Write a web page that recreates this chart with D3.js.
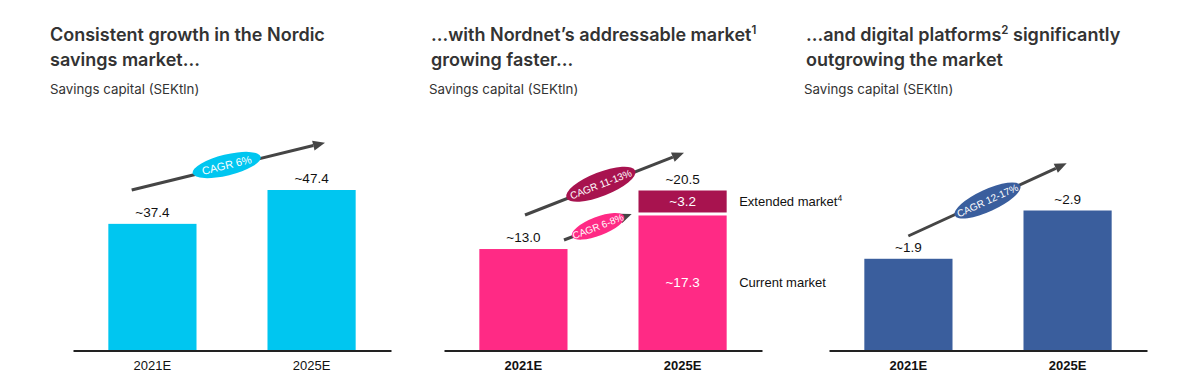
<!DOCTYPE html>
<html><head><meta charset="utf-8">
<script src="https://cdn.jsdelivr.net/npm/d3@7/dist/d3.min.js"></script>
<style>
html,body{margin:0;padding:0;background:#fff;}
svg{display:block;}
</style></head>
<body>
<svg id="chart" width="1178" height="381"></svg>
<script>
// ---- data ----
const categories = ["2021E", "2025E"];
const nordicValues = [37.4, 47.4];
const nordicLabels = ["~37.4", "~47.4"];
const currentMarket = [13.0, 17.3];
const extendedMarket = [0, 3.2];
const addressableLabels = ["~13.0", "~20.5"];
const segmentLabels = ["~17.3", "~3.2"];
const digitalValues = [1.9, 2.9];
const digitalLabels = ["~1.9", "~2.9"];
const cagrLabels = ["CAGR 6%", "CAGR 11-13%", "CAGR 6-8%", "CAGR 12-17%"];
const titles = [
  ["Consistent growth in the Nordic", "savings market..."],
  ["...with Nordnet\u2019s addressable market|1", "growing faster..."],
  ["...and digital platforms|2 significantly", "outgrowing the market"]
];
const subtitle = "Savings capital (SEKtln)";
const legendLabels = ["Extended market", "Current market"];

// ---- style ----
const C = {cyan:"#00c6f0", pink:"#ff2a85", plum:"#a8134f", blue:"#3a5e9d", text:"#333", arrow:"#454545"};
const svg = d3.select("#chart");
const baseY = 350.5;
const panelW = 318;
const panels = [
  {x0:73, tx:50, max:47.4, top:190},
  {x0:444, tx:431, max:20.5, top:190.5},
  {x0:829, tx:806, max:2.9, top:210.5}
];

function title(p, i) {
  const g = svg.append("g");
  titles[i].forEach((line, k) => {
    const t = g.append("text").attr("x", p.tx).attr("y", 41 + k*24.5)
      .attr("font-family", "Inter, sans-serif").attr("font-weight", 600)
      .attr("font-size", 18).attr("fill", C.text);
    const parts = line.split("|");
    if (parts.length === 1) { t.text(line); }
    else {
      const [a, rest] = parts;
      const sup = rest[0], after = rest.slice(1);
      t.append("tspan").text(a);
      t.append("tspan").attr("dy", -7).attr("font-size", 11.5).text(sup);
      t.append("tspan").attr("dy", 7).text(after);
    }
  });
  g.append("text").attr("x", p.tx - (i===0?0:2)).attr("y", 94)
    .attr("font-family", "Inter, sans-serif").attr("font-size", 13.3)
    .attr("fill", C.text).text(subtitle);
}

function scales(p) {
  const x = d3.scaleBand().domain(categories).range([p.x0, p.x0 + panelW])
    .paddingInner(0.446).paddingOuter(0.222);
  const y = d3.scaleLinear().domain([0, p.max]).range([baseY, p.top]);
  return {x, y};
}

function axis(p, x, bold) {
  const g = svg.append("g").attr("transform", `translate(0,${baseY})`)
    .call(d3.axisBottom(x).tickSize(0).tickPadding(10));
  g.select(".domain").attr("stroke", "#222").attr("stroke-width", 2);
  g.selectAll(".tick text").attr("font-family", "Liberation Sans, Arial, sans-serif")
    .attr("font-size", 13).attr("fill", "#111").attr("font-weight", bold ? 700 : 400);
}

function valueLabels(x, y, vals, labels, fill="#111") {
  svg.append("g").selectAll("text").data(categories).join("text")
    .attr("x", d => x(d) + x.bandwidth()/2)
    .attr("y", (d, i) => y(vals[i]) - 7)
    .attr("text-anchor", "middle").attr("font-family", "Liberation Sans, Arial, sans-serif")
    .attr("font-size", 13.5).attr("fill", fill).text((d, i) => labels[i]);
}

function arrow(x1, y1, x2, y2) {
  const ang = Math.atan2(y2 - y1, x2 - x1);
  const L = 12, W = 5;
  const bx = x2 - L*Math.cos(ang), by = y2 - L*Math.sin(ang);
  svg.append("line").attr("x1", x1).attr("y1", y1).attr("x2", bx).attr("y2", by)
    .attr("stroke", C.arrow).attr("stroke-width", 3);
  const px = -Math.sin(ang)*W, py = Math.cos(ang)*W;
  svg.append("path").attr("d", `M${x2},${y2}L${bx+px},${by+py}L${bx-px},${by-py}Z`).attr("fill", C.arrow);
  return ang*180/Math.PI;
}

function badge(cx, cy, rx, ry, angle, fill, label, fs=11) {
  const g = svg.append("g").attr("transform", `translate(${cx},${cy}) rotate(${angle})`);
  g.append("ellipse").attr("rx", rx).attr("ry", ry).attr("fill", fill);
  g.append("text").attr("text-anchor", "middle").attr("dy", "0.36em")
    .attr("font-family", "Liberation Sans, Arial, sans-serif").attr("font-size", fs)
    .attr("fill", "#fff").text(label);
}

// ---- panel 1 ----
{
  const p = panels[0]; title(p, 0);
  const {x, y} = scales(p);
  svg.append("g").selectAll("rect").data(categories).join("rect")
    .attr("x", d => x(d)).attr("width", x.bandwidth())
    .attr("y", (d, i) => y(nordicValues[i])).attr("height", (d, i) => baseY - y(nordicValues[i]))
    .attr("fill", C.cyan);
  axis(p, x, false);
  valueLabels(x, y, nordicValues, nordicLabels);
  const a = arrow(p.x0 + 58.7, 190, p.x0 + 252, 142.7);
  badge(p.x0 + 153.7, 165, 35, 10.5, a, C.cyan, cagrLabels[0]);
}

// ---- panel 2 ----
{
  const p = panels[1]; title(p, 1);
  const {x, y} = scales(p);
  const totals = categories.map((d, i) => currentMarket[i] + extendedMarket[i]);
  svg.append("g").selectAll("rect").data(categories).join("rect")
    .attr("x", d => x(d)).attr("width", x.bandwidth())
    .attr("y", (d, i) => y(currentMarket[i])).attr("height", (d, i) => baseY - y(currentMarket[i]))
    .attr("fill", C.pink);
  svg.append("g").selectAll("rect").data(categories.filter((d, i) => extendedMarket[i] > 0)).join("rect")
    .attr("x", d => x(d)).attr("width", x.bandwidth())
    .attr("y", d => y(totals[categories.indexOf(d)]))
    .attr("height", d => { const i = categories.indexOf(d); return y(currentMarket[i]) - y(totals[i]) - 3; })
    .attr("fill", C.plum);
  axis(p, x, true);
  valueLabels(x, y, totals, addressableLabels);
  const c = categories[1];
  const cx = x(c) + x.bandwidth()/2;
  const i = 1;
  svg.append("text").attr("x", cx).attr("y", (y(totals[i]) + y(currentMarket[i]) - 3)/2 + 5)
    .attr("text-anchor", "middle").attr("font-family", "Liberation Sans, Arial, sans-serif")
    .attr("font-size", 13.5).attr("fill", "#fff").text(segmentLabels[1]);
  svg.append("text").attr("x", cx).attr("y", 286.5)
    .attr("text-anchor", "middle").attr("font-family", "Liberation Sans, Arial, sans-serif")
    .attr("font-size", 13.5).attr("fill", "#fff").text(segmentLabels[0]);
  const lx = x(c) + x.bandwidth() + 12.5;
  const lt = svg.append("text").attr("x", lx).attr("y", (y(totals[i]) + y(currentMarket[i]) - 3)/2 + 5)
    .attr("font-family", "Liberation Sans, Arial, sans-serif").attr("font-size", 13).attr("fill", "#111");
  lt.append("tspan").text(legendLabels[0]);
  lt.append("tspan").attr("dy", -5).attr("font-size", 8.5).text("4");
  svg.append("text").attr("x", lx).attr("y", 286.5)
    .attr("font-family", "Liberation Sans, Arial, sans-serif").attr("font-size", 13).attr("fill", "#111")
    .text(legendLabels[1]);
  const a1 = arrow(p.x0 + 81, 215, p.x0 + 240, 152.7);
  badge(p.x0 + 156.8, 184.2, 37, 12, a1, C.plum, cagrLabels[1], 10);
  const a2 = arrow(p.x0 + 120, 240, p.x0 + 187.7, 214);
  badge(p.x0 + 154, 226.3, 28, 9.4, a2, C.pink, cagrLabels[2], 9.8);
}

// ---- panel 3 ----
{
  const p = panels[2]; title(p, 2);
  const {x, y} = scales(p);
  svg.append("g").selectAll("rect").data(categories).join("rect")
    .attr("x", d => x(d)).attr("width", x.bandwidth())
    .attr("y", (d, i) => y(digitalValues[i])).attr("height", (d, i) => baseY - y(digitalValues[i]))
    .attr("fill", C.blue);
  axis(p, x, true);
  valueLabels(x, y, digitalValues, digitalLabels);
  const a = arrow(p.x0 + 79.3, 236, p.x0 + 237.7, 163.3);
  badge(p.x0 + 158.5, 200.5, 36, 11, a, C.blue, cagrLabels[3], 10);
}
</script>
</body></html>
